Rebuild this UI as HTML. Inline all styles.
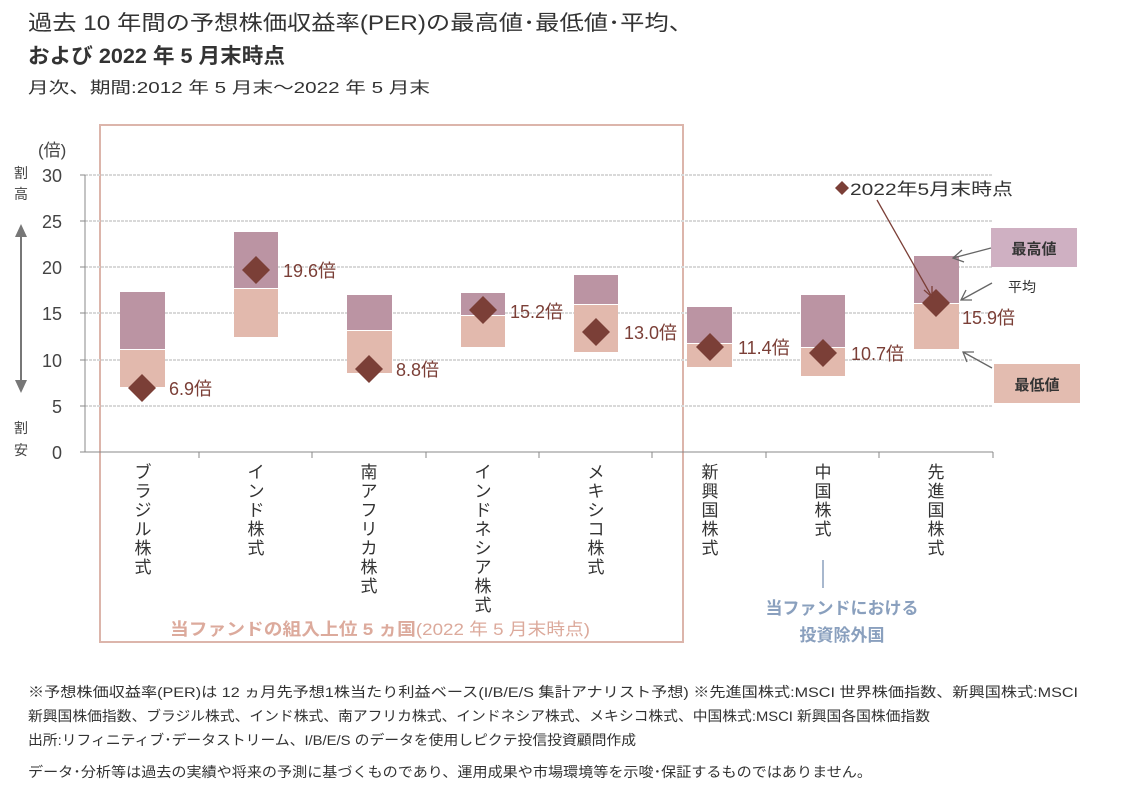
<!DOCTYPE html>
<html><head><meta charset="utf-8"><style>
body{margin:0;background:#fff;}
svg text{font-family:"Liberation Sans","Noto Sans CJK JP",sans-serif;}
</style></head><body>
<svg width="1128" height="789" viewBox="0 0 1128 789" xmlns="http://www.w3.org/2000/svg">
<text x="28" y="30" font-size="21" fill="#333" textLength="665" lengthAdjust="spacingAndGlyphs">過去 10 年間の予想株価収益率(PER)の最高値･最低値･平均、</text>
<text x="28" y="63" font-size="21" font-weight="bold" fill="#333" textLength="257" lengthAdjust="spacingAndGlyphs">および 2022 年 5 月末時点</text>
<text x="28" y="93" font-size="16" fill="#333" textLength="402" lengthAdjust="spacingAndGlyphs">月次、期間:2012 年 5 月末～2022 年 5 月末</text>
<rect x="100" y="125" width="583" height="517" fill="none" stroke="#dcb5ab" stroke-width="2"/>
<g stroke="#d9d9d9" stroke-width="2" stroke-dasharray="3,1">
<line x1="85" y1="175" x2="993" y2="175"/><line x1="85" y1="221" x2="993" y2="221"/>
<line x1="85" y1="267" x2="993" y2="267"/><line x1="85" y1="313" x2="993" y2="313"/>
<line x1="85" y1="360" x2="993" y2="360"/><line x1="85" y1="406" x2="993" y2="406"/>
</g>
<g stroke="#888" stroke-width="1">
<line x1="85" y1="175" x2="85" y2="452"/><line x1="80" y1="452" x2="993" y2="452"/>
<line x1="80" y1="175" x2="85" y2="175"/><line x1="80" y1="221" x2="85" y2="221"/><line x1="80" y1="267" x2="85" y2="267"/><line x1="80" y1="313" x2="85" y2="313"/><line x1="80" y1="360" x2="85" y2="360"/><line x1="80" y1="406" x2="85" y2="406"/>
<line x1="199" y1="452" x2="199" y2="458"/><line x1="312" y1="452" x2="312" y2="458"/><line x1="426" y1="452" x2="426" y2="458"/><line x1="539" y1="452" x2="539" y2="458"/><line x1="652" y1="452" x2="652" y2="458"/><line x1="766" y1="452" x2="766" y2="458"/><line x1="879" y1="452" x2="879" y2="458"/><line x1="993" y1="452" x2="993" y2="458"/>
</g>
<g font-size="18" fill="#444" text-anchor="end">
<text x="62" y="182">30</text><text x="62" y="228">25</text><text x="62" y="274">20</text><text x="62" y="320">15</text><text x="62" y="367">10</text><text x="62" y="413">5</text><text x="62" y="459">0</text>
</g>
<text x="38" y="156" font-size="17" fill="#444">(倍)</text>
<g font-size="14" fill="#444"><text x="14" y="178">割</text><text x="14" y="199">高</text><text x="14" y="433">割</text><text x="14" y="455">安</text></g>
<line x1="21" y1="235" x2="21" y2="382" stroke="#777" stroke-width="2"/>
<polygon points="15,237 27,237 21,224" fill="#777"/><polygon points="15,380 27,380 21,393" fill="#777"/>
<g>
<rect x="120" y="292" width="45" height="57" fill="#bb94a3"/><rect x="120" y="350" width="45" height="37" fill="#e2b9ad"/>
<rect x="234" y="232" width="44" height="56" fill="#bb94a3"/><rect x="234" y="289" width="44" height="48" fill="#e2b9ad"/>
<rect x="347" y="295" width="45" height="35" fill="#bb94a3"/><rect x="347" y="331" width="45" height="42" fill="#e2b9ad"/>
<rect x="461" y="293" width="44" height="22" fill="#bb94a3"/><rect x="461" y="316" width="44" height="31" fill="#e2b9ad"/>
<rect x="574" y="275" width="44" height="29" fill="#bb94a3"/><rect x="574" y="305" width="44" height="47" fill="#e2b9ad"/>
<rect x="687" y="307" width="45" height="36" fill="#bb94a3"/><rect x="687" y="344" width="45" height="23" fill="#e2b9ad"/>
<rect x="801" y="295" width="44" height="52" fill="#bb94a3"/><rect x="801" y="348" width="44" height="28" fill="#e2b9ad"/>
<rect x="914" y="256" width="45" height="47" fill="#bb94a3"/><rect x="914" y="304" width="45" height="45" fill="#e2b9ad"/>
</g>
<g fill="#7b3f37">
<polygon points="142,374 156,388 142,402 128,388"/>
<polygon points="256,256 270,270 256,284 242,270"/>
<polygon points="369,355 383,369 369,383 355,369"/>
<polygon points="483,296 497,310 483,324 469,310"/>
<polygon points="596,318 610,332 596,346 582,332"/>
<polygon points="710,333 724,347 710,361 696,347"/>
<polygon points="823,339 837,353 823,367 809,353"/>
<polygon points="936,289 950,303 936,317 922,303"/>
</g>
<g font-size="18" fill="#7b3f37">
<text x="169" y="395">6.9倍</text><text x="283" y="277">19.6倍</text><text x="396" y="376">8.8倍</text><text x="510" y="318">15.2倍</text><text x="624" y="339">13.0倍</text><text x="738" y="354">11.4倍</text><text x="851" y="360">10.7倍</text><text x="962" y="324">15.9倍</text>
</g>
<polygon points="842,181 849,188 842,195 835,188" fill="#7b3f37"/>
<text x="850" y="195" font-size="17" fill="#333" textLength="163" lengthAdjust="spacingAndGlyphs">2022年5月末時点</text>
<line x1="877" y1="200" x2="932" y2="297" stroke="#7b3f37" stroke-width="1.3"/>
<polyline points="924,290 932,297 932,286" fill="none" stroke="#7b3f37" stroke-width="1.3"/>
<rect x="991" y="228" width="86" height="39" fill="#cfb0c2"/>
<text x="1034" y="254" font-size="15" font-weight="bold" fill="#333" text-anchor="middle">最高値</text>
<rect x="994" y="364" width="86" height="39" fill="#e3bcb0"/>
<text x="1037" y="390" font-size="15" font-weight="bold" fill="#333" text-anchor="middle">最低値</text>
<text x="1008" y="292" font-size="14" fill="#333">平均</text>
<g stroke="#666" stroke-width="1.3" fill="none">
<line x1="991" y1="248" x2="953" y2="258"/><polyline points="962,250 953,258 964,262"/>
<line x1="992" y1="283" x2="961" y2="300"/><polyline points="966,290 961,300 972,300"/>
<line x1="992" y1="368" x2="963" y2="352"/><polyline points="967,362 963,352 974,352"/>
</g>
<g font-size="17" fill="#333" text-anchor="middle">
<text x="143" y="478"><tspan x="143" dy="0">ブ</tspan><tspan x="143" dy="19">ラ</tspan><tspan x="143" dy="19">ジ</tspan><tspan x="143" dy="19">ル</tspan><tspan x="143" dy="19">株</tspan><tspan x="143" dy="19">式</tspan></text>
<text x="256" y="478"><tspan x="256" dy="0">イ</tspan><tspan x="256" dy="19">ン</tspan><tspan x="256" dy="19">ド</tspan><tspan x="256" dy="19">株</tspan><tspan x="256" dy="19">式</tspan></text>
<text x="369" y="478"><tspan x="369" dy="0">南</tspan><tspan x="369" dy="19">ア</tspan><tspan x="369" dy="19">フ</tspan><tspan x="369" dy="19">リ</tspan><tspan x="369" dy="19">カ</tspan><tspan x="369" dy="19">株</tspan><tspan x="369" dy="19">式</tspan></text>
<text x="483" y="478"><tspan x="483" dy="0">イ</tspan><tspan x="483" dy="19">ン</tspan><tspan x="483" dy="19">ド</tspan><tspan x="483" dy="19">ネ</tspan><tspan x="483" dy="19">シ</tspan><tspan x="483" dy="19">ア</tspan><tspan x="483" dy="19">株</tspan><tspan x="483" dy="19">式</tspan></text>
<text x="596" y="478"><tspan x="596" dy="0">メ</tspan><tspan x="596" dy="19">キ</tspan><tspan x="596" dy="19">シ</tspan><tspan x="596" dy="19">コ</tspan><tspan x="596" dy="19">株</tspan><tspan x="596" dy="19">式</tspan></text>
<text x="710" y="478"><tspan x="710" dy="0">新</tspan><tspan x="710" dy="19">興</tspan><tspan x="710" dy="19">国</tspan><tspan x="710" dy="19">株</tspan><tspan x="710" dy="19">式</tspan></text>
<text x="823" y="478"><tspan x="823" dy="0">中</tspan><tspan x="823" dy="19">国</tspan><tspan x="823" dy="19">株</tspan><tspan x="823" dy="19">式</tspan></text>
<text x="936" y="478"><tspan x="936" dy="0">先</tspan><tspan x="936" dy="19">進</tspan><tspan x="936" dy="19">国</tspan><tspan x="936" dy="19">株</tspan><tspan x="936" dy="19">式</tspan></text>
</g>
<line x1="823" y1="560" x2="823" y2="588" stroke="#8aa0be" stroke-width="1.5"/>
<text x="842" y="614" font-size="17" font-weight="bold" fill="#8aa0be" text-anchor="middle">当ファンドにおける</text>
<text x="842" y="641" font-size="17" font-weight="bold" fill="#8aa0be" text-anchor="middle">投資除外国</text>
<text x="170" y="635" font-size="17" fill="#dcaa9c" textLength="420" lengthAdjust="spacingAndGlyphs"><tspan font-weight="bold">当ファンドの組入上位 5 ヵ国</tspan>(2022 年 5 月末時点)</text>
<g font-size="14" fill="#333" lengthAdjust="spacingAndGlyphs">
<text x="28" y="697" textLength="1050" lengthAdjust="spacingAndGlyphs">※予想株価収益率(PER)は 12 ヵ月先予想1株当たり利益ベース(I/B/E/S 集計アナリスト予想) ※先進国株式:MSCI 世界株価指数、新興国株式:MSCI</text>
<text x="28" y="721" textLength="902" lengthAdjust="spacingAndGlyphs">新興国株価指数、ブラジル株式、インド株式、南アフリカ株式、インドネシア株式、メキシコ株式、中国株式:MSCI 新興国各国株価指数</text>
<text x="28" y="745" textLength="608" lengthAdjust="spacingAndGlyphs">出所:リフィニティブ･データストリーム、I/B/E/S のデータを使用しピクテ投信投資顧問作成</text>
<text x="28" y="777" textLength="844" lengthAdjust="spacingAndGlyphs">データ･分析等は過去の実績や将来の予測に基づくものであり、運用成果や市場環境等を示唆･保証するものではありません。</text>
</g>
</svg>
</body></html>
